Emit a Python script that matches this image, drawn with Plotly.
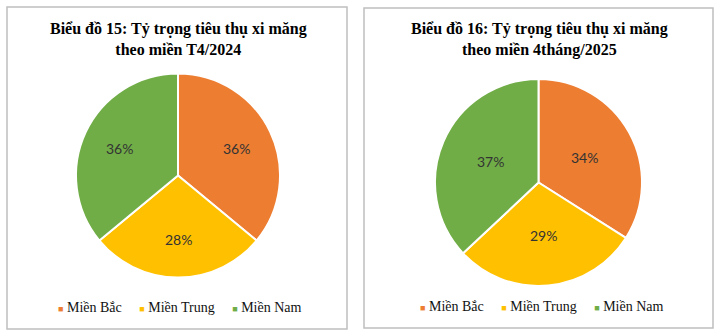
import math
import plotly.graph_objects as go

# Regional cement consumption share (%)
regions = ["Miền Bắc", "Miền Trung", "Miền Nam"]
share_t4_2024 = [36, 28, 36]
share_4m_2025 = [34, 29, 37]
titles = [
    "Biểu đồ 15: Tỷ trọng tiêu thụ xi măng<br>theo miền T4/2024",
    "Biểu đồ 16: Tỷ trọng tiêu thụ xi măng<br>theo miền 4tháng/2025",
]
colors = ["#ED7D31", "#FFC000", "#70AD47"]

W, H = 721, 336


def px_x(v):
    return v / W


def px_y(v):
    return 1 - v / H


# panel frames (pixels): x0, x1, y0, y1
panels = [(7, 347, 7, 329), (364, 713, 8, 328)]
# pie placement (pixels): centre x, centre y, radius
pies = [(178, 175.5, 102), (538.5, 182.5, 103.5)]
label_r = [0.63, 0.51]
legend_y = [307, 306]

fig = go.Figure()
shapes = []
annotations = []

for i, values in enumerate([share_t4_2024, share_4m_2025]):
    cx, cy, r = pies[i]
    fig.add_trace(go.Pie(
        labels=regions,
        values=values,
        sort=False,
        direction="clockwise",
        rotation=0,
        marker=dict(colors=colors, line=dict(color="white", width=2)),
        textinfo="none",
        hoverinfo="label+percent",
        showlegend=False,
        domain=dict(x=[px_x(cx - r), px_x(cx + r)],
                    y=[px_y(cy + r), px_y(cy - r)]),
    ))

    # percentage labels placed along each slice's bisector
    total = sum(values)
    acc = 0
    for v in values:
        mid = (acc + v / 2) / total * 2 * math.pi
        acc += v
        lx = cx + label_r[i] * r * math.sin(mid)
        ly = cy - label_r[i] * r * math.cos(mid)
        annotations.append(dict(
            x=px_x(lx), y=px_y(ly), xref="paper", yref="paper",
            text=f"{v}%", showarrow=False,
            font=dict(family="Lato", size=14, color="#333333"),
            xanchor="center", yanchor="middle",
        ))

    x0, x1, y0, y1 = panels[i]
    shapes.append(dict(
        type="rect", xref="paper", yref="paper",
        x0=px_x(x0), x1=px_x(x1), y0=px_y(y1), y1=px_y(y0),
        line=dict(color="#BFBFBF", width=1.5), fillcolor="rgba(0,0,0,0)",
        layer="below",
    ))

    # title
    annotations.append(dict(
        x=px_x((x0 + x1) / 2 + 1), y=px_y(39), xref="paper", yref="paper",
        text=f"<b>{titles[i]}</b>", showarrow=False,
        font=dict(family="Liberation Serif", size=16, color="#000000"),
        xanchor="center", yanchor="middle", align="center",
    ))

    # legend row
    items = [
        f"<span style='color:{c};font-size:9px'>■</span> {name}"
        for name, c in zip(regions, colors)
    ]
    annotations.append(dict(
        x=px_x((x0 + x1) / 2 + 3), y=px_y(legend_y[i]), xref="paper", yref="paper",
        text="     ".join(items), showarrow=False,
        font=dict(family="Liberation Serif", size=14, color="#111111"),
        xanchor="center", yanchor="middle",
    ))

fig.update_layout(
    width=W, height=H,
    margin=dict(l=0, r=0, t=0, b=0),
    paper_bgcolor="white",
    plot_bgcolor="white",
    shapes=shapes,
    annotations=annotations,
)

fig.write_html("out.html")
